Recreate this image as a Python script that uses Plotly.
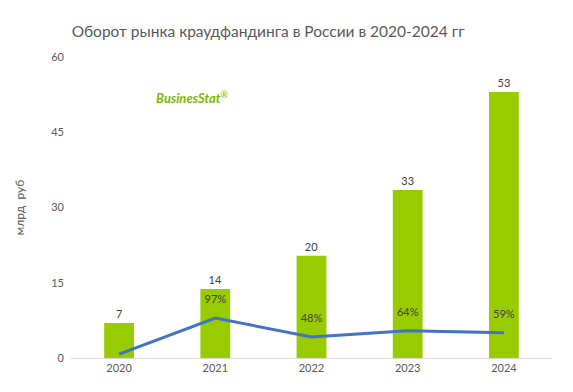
import plotly.graph_objects as go

years = ["2020", "2021", "2022", "2023", "2024"]
turnover = [7.0, 13.75, 20.4, 33.5, 53.0]
turnover_labels = ["7", "14", "20", "33", "53"]
growth = [4, 97, 48, 64, 59]
growth_labels = ["", "97%", "48%", "64%", "59%"]

fig = go.Figure()
fig.add_trace(go.Bar(
    x=years, y=turnover, text=turnover_labels, textposition="outside",
    textfont=dict(color="#404040", size=11, family="Lato"),
    marker=dict(color="#99CC00", line=dict(width=0)), width=0.31,
    cliponaxis=False, showlegend=False,
))
fig.add_trace(go.Scatter(
    x=years, y=growth, yaxis="y2", mode="lines+markers+text",
    text=growth_labels, textposition="top center",
    textfont=dict(color="#404040", size=11, family="Lato"),
    marker=dict(size=18, color="rgba(0,0,0,0)"),
    line=dict(color="#4472C4", width=3), showlegend=False,
))

fig.update_layout(
    width=573, height=392,
    margin=dict(l=63, r=29, t=49, b=42),
    paper_bgcolor="white", plot_bgcolor="white",
    title=dict(text="Оборот рынка краудфандинга в России в 2020-2024 гг",
               x=0.454, xanchor="center", y=0.939, yanchor="middle",
               font=dict(family="Lato", size=15.5, color="#595959")),
    xaxis=dict(showgrid=False, showline=True, linecolor="#D9D9D9", linewidth=1,
               ticks="", tickfont=dict(family="Lato", size=11, color="#595959")),
    yaxis=dict(range=[0, 60], tickvals=[0, 15, 30, 45, 60], showgrid=False,
               zeroline=False, showline=False, ticks="", ticklabelstandoff=6,
               tickfont=dict(family="Lato", size=11, color="#595959"),
               title=dict(text="млрд  руб", standoff=24,
                          font=dict(family="Lato", size=12, color="#595959"))),
    yaxis2=dict(range=[-6, 770], overlaying="y", visible=False),
    bargap=0.69,
)

fig.add_annotation(
    xref="paper", yref="paper", x=0.252, y=0.867, xanchor="center", yanchor="middle",
    text="<b><i>BusinesStat</i></b><sup>®</sup>", showarrow=False,
    font=dict(family="Lato", size=13, color="#7AB800"),
)

fig.write_html("out.html")
